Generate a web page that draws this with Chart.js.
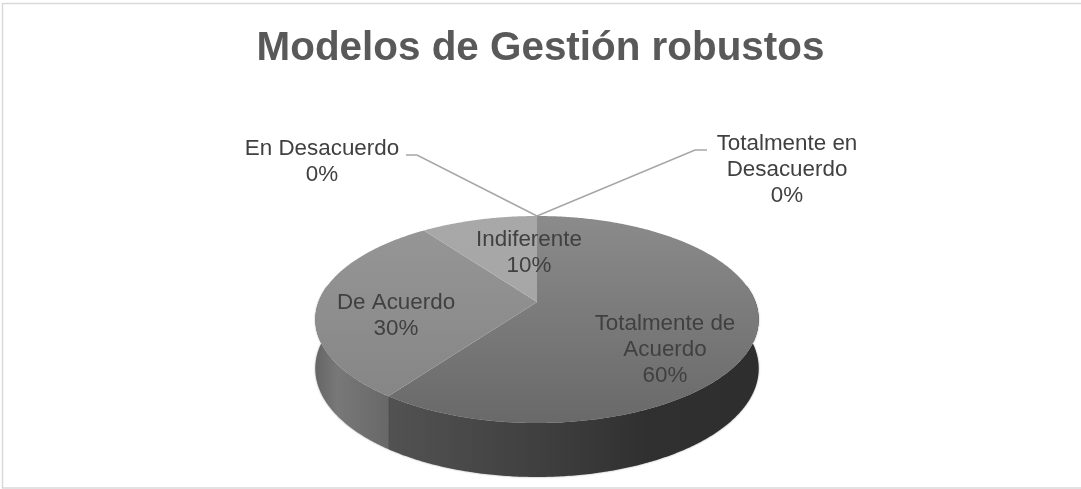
<!DOCTYPE html>
<html lang="es">
<head>
<meta charset="utf-8">
<title>Modelos de Gestión robustos</title>
<style>
  html, body { margin: 0; padding: 0; background: #fff; }
  #wrap { position: relative; width: 1081px; height: 489px; }
</style>
</head>
<body>
<div id="wrap"><canvas id="pieChart" width="1081" height="489"></canvas></div>
<script src="https://cdn.jsdelivr.net/npm/chart.js@4"></script>
<script>
'use strict';

// ─────────────────────────────────────────────
// 1. DATA
// ─────────────────────────────────────────────
const titulo     = 'Modelos de Gestión robustos';
const categorias = ['Totalmente de Acuerdo', 'De Acuerdo', 'Indiferente', 'En Desacuerdo', 'Totalmente en Desacuerdo'];
const valores    = [60, 30, 10, 0, 0];

// ─────────────────────────────────────────────
// 2. ESTILO
// ─────────────────────────────────────────────
const FUENTE = '"Liberation Sans", Arial, sans-serif';

const caraArriba = ['#8b8b8b', '#979797', '#a8a8a8', '#b0b0b0', '#b8b8b8'];
const caraAbajo  = ['#696969', '#838383', '#a4a4a4', '#b0b0b0', '#b8b8b8'];

// paredes laterales: sólo se ven las de las dos porciones grandes
const paredes = [
  { x0: 388, x1: 758, paradas: [[0, '#525252'], [0.4, '#404040'], [0.7, '#303030'], [1, '#2e2e2e']] },
  { x0: 316, x1: 388, paradas: [[0, '#666666'], [0.3, '#787878'], [1, '#686868']] },
];

// líneas de cada etiqueta: centro x, y de la primera línea
const etiquetas = [
  { lineas: ['Totalmente de', 'Acuerdo'],        x: 665, y: 324 },
  { lineas: ['De Acuerdo'],                      x: 396, y: 303 },
  { lineas: ['Indiferente'],                     x: 529, y: 240 },
  { lineas: ['En Desacuerdo'],                   x: 322, y: 149 },
  { lineas: ['Totalmente en', 'Desacuerdo'],     x: 787, y: 144 },
];
const INTERLINEA = 26;

// guías de las dos categorías en cero: extremo, codo, vértice
const guias = [
  [[406, 155], [417, 155], [537, 216]],
  [[707, 150], [695, 150], [537, 216]],
];

// ─────────────────────────────────────────────
// 3. PROYECCIÓN DEL DISCO (perspectiva)
// ─────────────────────────────────────────────
const CX = 537, APEX_Y = 302, ESCALA_X = 218.5, ESCALA_Y = 49.5, K = 0.169;

// tramo frontal del borde, el único con pared visible
const FRENTE_INI = -0.17, FRENTE_FIN = Math.PI + 0.17;

function proyectar(ang, abajo = false) {
  const u = Math.cos(ang), v = Math.sin(ang), w = 1 - K * v;
  const grosor = abajo ? 48 + 6 * v : 0;
  return [CX + ESCALA_X * u / w, (ESCALA_Y * v + APEX_Y) / w + grosor];
}

function trazarBorde(ctx, ini, fin, abajo, primero) {
  const pasos = Math.max(2, Math.ceil(Math.abs(fin - ini) / 0.01));
  for (let i = 0; i <= pasos; i++) {
    const [x, y] = proyectar(ini + (fin - ini) * i / pasos, abajo);
    if (i === 0 && primero) ctx.moveTo(x, y); else ctx.lineTo(x, y);
  }
}

const pastel3d = {
  id: 'pastel3d',
  beforeDraw(chart) {
    // marco del área de gráfico
    const { ctx } = chart;
    ctx.save();
    ctx.strokeStyle = '#d9d9d9';
    ctx.lineWidth = 1.5;
    ctx.beginPath();
    ctx.moveTo(1081, 3.5);
    ctx.lineTo(2.5, 3.5);
    ctx.lineTo(2.5, 488);
    ctx.lineTo(1081, 488);
    ctx.stroke();
    ctx.restore();
  },
  beforeDatasetDraw(chart, args) {
    const { ctx } = chart;
    const arcos = args.meta.data;

    // pared lateral, borde inferior algo difuso
    ctx.save();
    ctx.shadowColor = 'rgba(0,0,0,0.4)';
    ctx.shadowBlur = 2;
    arcos.forEach((arco, i) => {
      const ini = Math.max(arco.startAngle, FRENTE_INI);
      const fin = Math.min(arco.endAngle, FRENTE_FIN);
      if (!paredes[i] || fin - ini < 1e-4) return;
      const p = paredes[i];
      const g = ctx.createLinearGradient(p.x0, 0, p.x1, 0);
      p.paradas.forEach(([pos, color]) => g.addColorStop(pos, color));
      ctx.fillStyle = g;
      ctx.beginPath();
      trazarBorde(ctx, ini, fin, false, true);
      trazarBorde(ctx, fin, ini, true, false);
      ctx.closePath();
      ctx.fill();
    });
    ctx.restore();

    // cara superior
    ctx.save();
    arcos.forEach((arco, i) => {
      if (arco.endAngle - arco.startAngle < 1e-4) return;
      const g = ctx.createLinearGradient(0, 216, 0, 423);
      g.addColorStop(0, caraArriba[i]);
      g.addColorStop(1, caraAbajo[i]);
      ctx.fillStyle = g;
      ctx.beginPath();
      ctx.moveTo(CX, APEX_Y);
      trazarBorde(ctx, arco.startAngle, arco.endAngle, false, false);
      ctx.closePath();
      ctx.fill();
    });
    ctx.restore();
    return false;
  },
  afterDatasetsDraw(chart) {
    const { ctx } = chart;
    ctx.save();

    ctx.strokeStyle = '#a6a6a6';
    ctx.lineWidth = 1.5;
    guias.forEach((g) => {
      ctx.beginPath();
      g.forEach(([x, y], i) => (i ? ctx.lineTo(x, y) : ctx.moveTo(x, y)));
      ctx.stroke();
    });

    ctx.fillStyle = '#404040';
    ctx.font = `22.4px ${FUENTE}`;
    ctx.textAlign = 'center';
    ctx.textBaseline = 'middle';
    etiquetas.forEach((e, i) => {
      const textos = [...e.lineas, `${valores[i]}%`];
      textos.forEach((t, n) => ctx.fillText(t, e.x, e.y + n * INTERLINEA));
    });
    ctx.restore();
  },
};

// ─────────────────────────────────────────────
// 4. CHART
// ─────────────────────────────────────────────
new Chart(document.getElementById('pieChart').getContext('2d'), {
  type: 'pie',
  data: {
    labels: categorias,
    datasets: [{ data: valores, backgroundColor: caraArriba, borderWidth: 0 }],
  },
  options: {
    responsive: false,
    animation: false,
    plugins: {
      legend: { display: false },
      tooltip: { enabled: false },
      title: {
        display: true,
        text: titulo,
        color: '#595959',
        font: { family: FUENTE, size: 40.4, weight: 'bold' },
        padding: { top: 25, bottom: 10 },
      },
    },
  },
  plugins: [pastel3d],
});
</script>
</body>
</html>
